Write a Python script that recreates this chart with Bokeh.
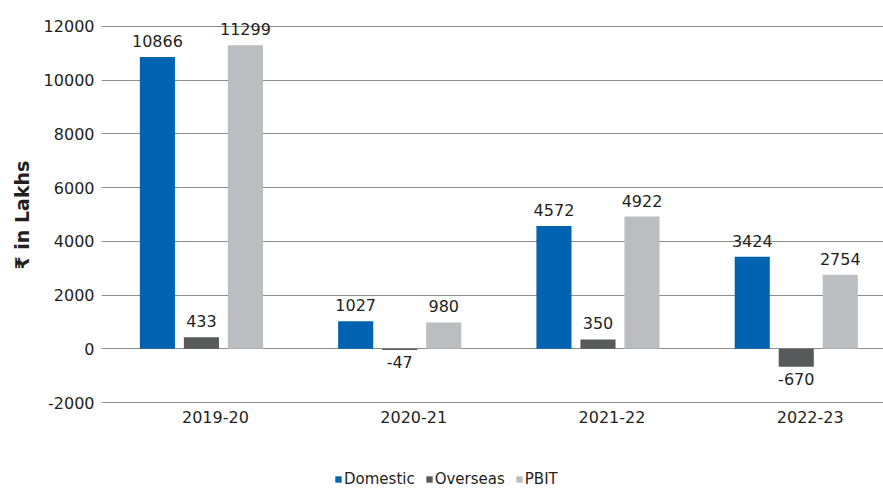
from bokeh.plotting import figure
from bokeh.models import (ColumnDataSource, Range1d, FixedTicker, Legend, LegendItem, Title)
from bokeh.core.properties import value
from bokeh.embed import file_html
from bokeh.resources import INLINE

years = ["2019-20", "2020-21", "2021-22", "2022-23"]
series = ["Domestic", "Overseas", "PBIT"]
domestic = [10866, 1027, 4572, 3424]
overseas = [433, -47, 350, -670]
pbit = [11299, 980, 4922, 2754]
colors = ["#0063B1", "#58595B", "#BCBDC0"]
y_ticks = [-2000, 0, 2000, 4000, 6000, 8000, 10000, 12000]
y_axis_title = "₹ in Lakhs"

FONT = "DejaVu Sans"
TXT = "#231F20"
cat_pos = list(range(len(years)))

# The frame extends below the -2000 line so that category labels and the legend
# (drawn inside it) are not clipped.
p = figure(width=883, height=488, output_backend="svg", toolbar_location=None,
           x_range=Range1d(-0.504, 3.44), y_range=Range1d(-5202, 12819),
           min_border_left=100, min_border_right=0, min_border_top=4, min_border_bottom=0)
p.outline_line_color = None
p.xgrid.visible = False
p.xaxis.visible = False
p.ygrid.ticker = FixedTicker(ticks=y_ticks)
p.ygrid.grid_line_color = "#8C8C8C"
p.ygrid.grid_line_width = 1

p.yaxis.ticker = FixedTicker(ticks=y_ticks)
p.yaxis.major_label_overrides = {t: str(t) for t in y_ticks}
p.yaxis.axis_line_color = None
p.yaxis.major_tick_line_color = None
p.yaxis.major_tick_out = 0
p.yaxis.minor_tick_line_color = None
p.yaxis.major_label_text_font = FONT
p.yaxis.major_label_text_font_size = "16px"
p.yaxis.major_label_text_color = TXT
p.yaxis.major_label_standoff = 7

ttl = Title(text=y_axis_title, align="left", offset=219, text_font=FONT,
            text_font_size="19px", text_font_style="bold", text_color=TXT, standoff=16)
p.add_layout(ttl, "left")

width = 0.177
step = 0.222
offsets = [-step, 0, step]
values = [domestic, overseas, pbit]
items = []
for name, vals, off, col in zip(series, values, offsets, colors):
    xs = [c + off for c in cat_pos]
    src = ColumnDataSource(dict(x=xs, top=vals))
    r = p.vbar(x="x", top="top", bottom=0, width=width, source=src,
               fill_color=col, line_color=None)
    items.append(LegendItem(label=name, renderers=[r]))
    pos = [(x, v) for x, v in zip(xs, vals) if v >= 0]
    neg = [(x, v) for x, v in zip(xs, vals) if v < 0]
    if pos:
        s = ColumnDataSource(dict(x=[a for a, b in pos], y=[b for a, b in pos],
                                  t=[str(b) for a, b in pos]))
        p.text(x="x", y="y", text="t", source=s, text_align="center",
               text_baseline="bottom", y_offset=-10, text_font=value(FONT),
               text_font_size="16px", text_color=TXT)
    if neg:
        s = ColumnDataSource(dict(x=[a for a, b in neg], y=[b for a, b in neg],
                                  t=[str(b) for a, b in neg]))
        p.text(x="x", y="y", text="t", source=s, text_align="center",
               text_baseline="top", y_offset=6, text_font=value(FONT),
               text_font_size="16px", text_color=TXT)

cat_src = ColumnDataSource(dict(x=cat_pos, y=[y_ticks[0]] * len(years), t=years))
p.text(x="x", y="y", text="t", source=cat_src, text_align="center", text_baseline="top",
       x_offset=14, y_offset=8, text_font=value(FONT), text_font_size="16px", text_color=TXT)

legend = Legend(items=items, orientation="horizontal", location=(233, 0),
                label_text_font=FONT, label_text_font_size="15px", label_text_color=TXT,
                glyph_width=8, glyph_height=8, label_standoff=2, spacing=10,
                background_fill_alpha=0, border_line_color=None, padding=0, margin=0)
p.add_layout(legend, "center")

open("out.html", "w").write(file_html(p, INLINE))
